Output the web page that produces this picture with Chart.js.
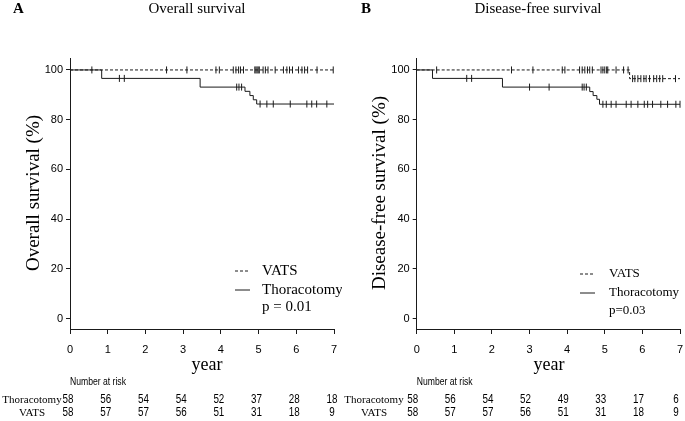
<!DOCTYPE html>
<html>
<head>
<meta charset="utf-8">
<script src="https://cdn.jsdelivr.net/npm/chart.js@4.4.0/dist/chart.umd.min.js"></script>
<style>
  body { margin: 0; background: #fff; }
  .panel { position: absolute; top: 0; height: 421px; }
  #pa { left: 0; width: 342px; }
  #pb { left: 342px; width: 343px; }
</style>
</head>
<body>
<div class="panel" id="pa"><canvas id="chartA"></canvas></div>
<div class="panel" id="pb"><canvas id="chartB"></canvas></div>
<script>
const years = [0, 1, 2, 3, 4, 5, 6, 7];
const yTicks = [0, 20, 40, 60, 80, 100];

// A: overall survival (years, %)
const osThorTimes = [0, 0.84, 3.45, 4.64, 4.77, 4.86, 4.95, 7];
const osThorSurv = [100, 96.6, 93.1, 91.4, 89.7, 88.0, 86.3, 86.3];
const osVatsTimes = [0, 7];
const osVatsSurv = [100, 100];
const osThorCensor = [1.31, 1.44, 4.42, 4.48, 4.55, 5.04, 5.22, 5.39, 5.84, 6.28, 6.41, 6.54, 6.81];
const osVatsCensor = [0.58, 2.56, 3.10, 3.87, 3.96, 4.33, 4.40, 4.47, 4.52, 4.60, 4.90, 4.93, 4.96,
  4.99, 5.02, 5.12, 5.18, 5.25, 5.44, 5.66, 5.75, 5.82, 5.90, 6.06, 6.15, 6.22, 6.30, 6.55, 6.98];
const osRiskThor = [58, 56, 54, 54, 52, 37, 28, 18];
const osRiskVats = [58, 57, 57, 56, 51, 31, 18, 9];

// B: disease-free survival
const dfsThorTimes = [0, 0.42, 2.28, 4.60, 4.69, 4.79, 4.86, 7];
const dfsThorSurv = [100, 96.6, 93.1, 91.3, 89.7, 88.2, 86.2, 86.2];
const dfsVatsTimes = [0, 5.66, 7];
const dfsVatsSurv = [100, 96.5, 96.5];
const dfsThorCensor = [1.33, 1.46, 3.00, 3.52, 4.40, 4.45, 4.51, 4.95, 5.04, 5.17, 5.30, 5.57, 5.70,
  5.88, 6.05, 6.14, 6.27, 6.49, 6.67, 6.89, 7.0];
const dfsVatsCensor = [0.53, 2.52, 3.09, 3.87, 3.94, 4.33, 4.40, 4.47, 4.54, 4.60, 4.67, 4.90, 4.95,
  5.00, 5.05, 5.08, 5.30, 5.50, 5.62, 5.74, 5.80, 5.88, 5.96, 6.04, 6.10, 6.19, 6.30, 6.38, 6.46, 6.54, 6.88];
const dfsRiskThor = [58, 56, 54, 52, 49, 33, 17, 6];
const dfsRiskVats = [58, 57, 57, 56, 51, 31, 18, 9];

const ink = '#1a1a1a';
const serif = '"Liberation Serif", "Times New Roman", serif';
const sans = '"Liberation Sans", Arial, sans-serif';

function survAt(times, surv, t) {
  let v = surv[0];
  for (let i = 0; i < times.length; i++) {
    if (times[i] <= t) v = surv[i];
  }
  return v;
}

function curve(times, surv, dashed) {
  return {
    type: 'line',
    data: times.map((t, i) => ({ x: t, y: surv[i] })),
    stepped: true,
    borderColor: ink,
    borderWidth: 1,
    borderDash: dashed ? [3, 2] : [],
    pointRadius: 0,
    fill: false,
  };
}

function censors(marks, times, surv) {
  return {
    type: 'scatter',
    data: marks.map((t) => ({ x: t, y: survAt(times, surv, t) })),
    pointStyle: 'line',
    rotation: 90,
    radius: 3.5,
    borderColor: ink,
    borderWidth: 1,
    clip: false,
  };
}

// narrow sans text, like the condensed font of the risk table
function narrow(ctx, text, x, y, sx) {
  ctx.save();
  ctx.translate(x, y);
  ctx.scale(sx, 1);
  ctx.fillText(text, 0, 0);
  ctx.restore();
}

const panelText = {
  id: 'panelText',
  afterDraw(chart, args, o) {
    const ctx = chart.ctx;
    const xs = chart.scales.x;
    ctx.save();
    ctx.fillStyle = '#000';
    ctx.textBaseline = 'middle';

    ctx.font = 'bold 15px ' + serif;
    ctx.textAlign = 'left';
    ctx.fillText(o.letter, o.letterX, 9);
    ctx.font = '15px ' + serif;
    ctx.textAlign = 'center';
    ctx.fillText(o.title, o.titleX, 9);

    ctx.save();
    ctx.translate(o.yTitleX, 193);
    ctx.rotate(-Math.PI / 2);
    ctx.font = '19px ' + serif;
    ctx.fillText(o.yTitle, 0, 0);
    ctx.restore();

    ctx.font = '18px ' + serif;
    ctx.fillText('year', o.yearX, 365);

    // legend
    const lg = o.lg;
    ctx.strokeStyle = ink;
    ctx.lineWidth = 1;
    ctx.setLineDash([3, 2]);
    ctx.beginPath();
    ctx.moveTo(lg.x0, lg.y[0]);
    ctx.lineTo(lg.x0 + 14, lg.y[0]);
    ctx.stroke();
    ctx.setLineDash([]);
    ctx.beginPath();
    ctx.moveTo(lg.x0, lg.y[1]);
    ctx.lineTo(lg.x0 + 15, lg.y[1]);
    ctx.stroke();
    ctx.font = lg.size + 'px ' + serif;
    ctx.textAlign = 'left';
    ctx.fillText('VATS', lg.tx, lg.y[0]);
    ctx.fillText('Thoracotomy', lg.tx, lg.y[1]);
    ctx.fillText(lg.p, lg.tx, lg.y[2]);

    // number at risk
    ctx.font = '10.5px ' + sans;
    narrow(ctx, 'Number at risk', xs.left, 382, 0.82);
    ctx.font = '11px ' + serif;
    ctx.textAlign = 'center';
    ctx.fillText('Thoracotomy', 32, 400);
    ctx.fillText('VATS', 32, 413);
    ctx.font = '12px ' + sans;
    years.forEach((yr, i) => {
      const px = xs.getPixelForValue(yr) - o.riskShift;
      narrow(ctx, String(o.riskThor[i]), px, 400, 0.82);
      narrow(ctx, String(o.riskVats[i]), px, 413, 0.82);
    });
    ctx.restore();
  },
};

function makeChart(id, cfg) {
  return new Chart(document.getElementById(id), {
    data: {
      datasets: [
        curve(cfg.thorTimes, cfg.thorSurv, false),
        curve(cfg.vatsTimes, cfg.vatsSurv, true),
        censors(cfg.thorCensor, cfg.thorTimes, cfg.thorSurv),
        censors(cfg.vatsCensor, cfg.vatsTimes, cfg.vatsSurv),
      ],
    },
    options: {
      responsive: true,
      maintainAspectRatio: false,
      animation: false,
      layout: { padding: { top: 58, right: cfg.padRight, bottom: 0, left: 0 } },
      plugins: {
        legend: { display: false },
        tooltip: { enabled: false },
        panelText: cfg.text,
      },
      scales: {
        x: {
          type: 'linear',
          min: 0,
          max: 7,
          afterBuildTicks: (s) => { s.ticks = years.map((v) => ({ value: v })); },
          afterFit: (s) => { s.height = 92; s.paddingLeft = 0; s.paddingRight = 0; },
          border: { display: true, color: ink, width: 1 },
          grid: { drawOnChartArea: false, drawTicks: true, tickLength: 5, color: ink },
          ticks: { padding: 9, color: '#000', font: { family: sans, size: 11 } },
        },
        y: {
          type: 'linear',
          min: -4.14,
          max: 104.8,
          afterBuildTicks: (s) => { s.ticks = yTicks.map((v) => ({ value: v })); },
          afterFit: (s) => { s.width = cfg.yWidth; s.paddingTop = 0; s.paddingBottom = 0; },
          border: { display: true, color: ink, width: 1 },
          grid: { drawOnChartArea: false, drawTicks: true, tickLength: 4, color: ink },
          ticks: { padding: 3, color: '#000', font: { family: sans, size: 11 } },
        },
      },
    },
    plugins: [panelText],
  });
}

makeChart('chartA', {
  thorTimes: osThorTimes, thorSurv: osThorSurv,
  vatsTimes: osVatsTimes, vatsSurv: osVatsSurv,
  thorCensor: osThorCensor, vatsCensor: osVatsCensor,
  padRight: 8, yWidth: 70,
  text: {
    letter: 'A', letterX: 13, title: 'Overall survival', titleX: 197,
    yTitle: 'Overall survival (%)', yTitleX: 34, yearX: 207,
    lg: { x0: 235, tx: 262, y: [271, 290, 307], p: 'p = 0.01', size: 15 },
    riskThor: osRiskThor, riskVats: osRiskVats, riskShift: 2,
  },
});

makeChart('chartB', {
  thorTimes: dfsThorTimes, thorSurv: dfsThorSurv,
  vatsTimes: dfsVatsTimes, vatsSurv: dfsVatsSurv,
  thorCensor: dfsThorCensor, vatsCensor: dfsVatsCensor,
  padRight: 4.3, yWidth: 74.7,
  text: {
    letter: 'B', letterX: 19, title: 'Disease-free survival', titleX: 196,
    yTitle: 'Disease-free survival (%)', yTitleX: 38, yearX: 207,
    lg: { x0: 238, tx: 267, y: [274, 293, 311], p: 'p=0.03', size: 13 },
    riskThor: dfsRiskThor, riskVats: dfsRiskVats, riskShift: 4,
  },
});
</script>
</body>
</html>
